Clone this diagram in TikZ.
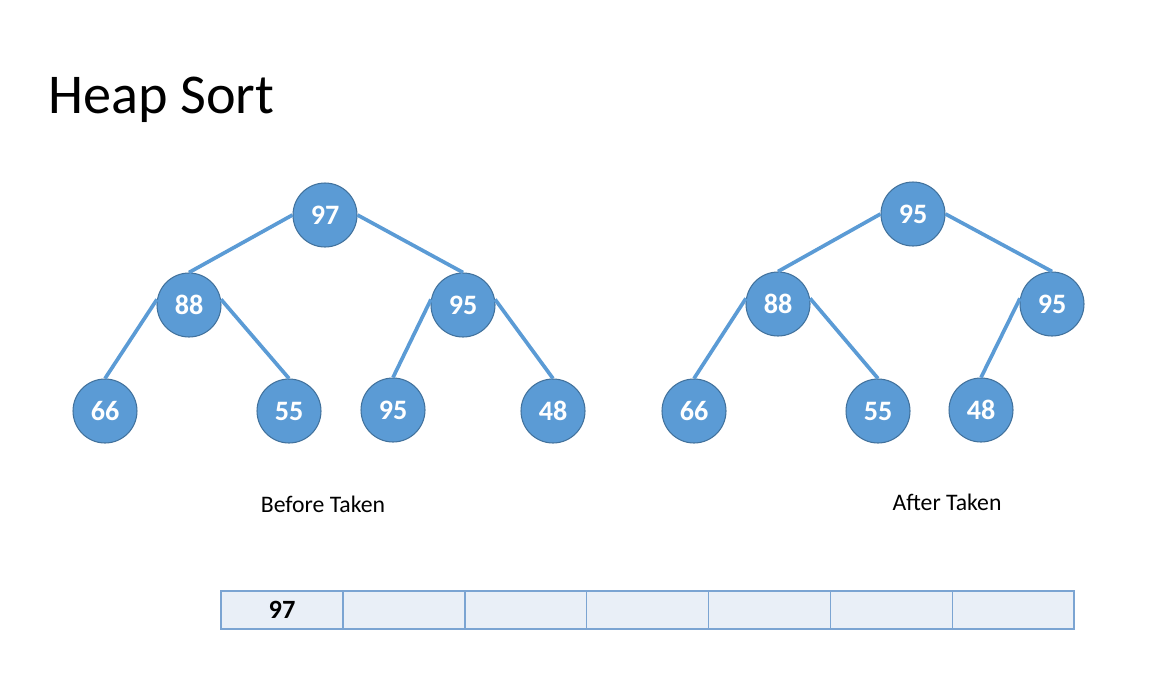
\documentclass[tikz,border=0pt]{standalone}
\usepackage{fontspec}
\setmainfont{Carlito}
\usepackage{xcolor}
\definecolor{nodeblue}{HTML}{5B9BD5}
\definecolor{nodeedge}{HTML}{41719C}
\definecolor{cellfill}{HTML}{E9EFF7}
\definecolor{celledge}{HTML}{7BA4D2}
\usepackage{tikz}

\tikzset{
  heapnode/.style={circle, fill=nodeblue, draw=nodeedge, line width=0.6pt,
    minimum size=1.28cm, inner sep=0pt, text=white,
    font=\fontsize{16}{18}\selectfont\bfseries},
  link/.style={nodeblue, line width=2.1pt},
  cellbox/.style={rectangle, fill=cellfill, draw=celledge, line width=0.8pt,
    minimum width=2.437cm, minimum height=0.76cm, inner sep=0pt}
}

\begin{document}
\begin{tikzpicture}[x=0.02cm, y=-0.02cm]

            \useasboundingbox (0,0) rectangle (1170,697);

            \node[anchor=base west, font=\fontsize{32}{36}\selectfont] (title) at (42,113) {Heap Sort};

            \node[heapnode] (l97) at (325,215) {97};
            \node[heapnode] (l88) at (189,305) {88};
            \node[heapnode] (l95) at (463,305) {95};
            \node[heapnode] (l66) at (105,411) {66};
            \node[heapnode] (l55) at (289,411) {55};
            \node[heapnode] (l95b) at (393,410) {95};
            \node[heapnode] (l48) at (553,411) {48};

            \draw[link] (l97.west) -- (l88.north);
            \draw[link] (l97.east) -- (l95.north);
            \draw[link] (l88.170) -- (l66.north);
            \draw[link] (l88.10) -- (l55.north);
            \draw[link] (l95.170) -- (l95b.north);
            \draw[link] (l95.10) -- (l48.north);

            \node[heapnode] (r95) at (913,214) {95};
            \node[heapnode] (r88) at (778,304) {88};
            \node[heapnode] (r95b) at (1052,304) {95};
            \node[heapnode] (r66) at (694,411) {66};
            \node[heapnode] (r55) at (878,411) {55};
            \node[heapnode] (r48) at (981,410) {48};

            \draw[link] (r95.west) -- (r88.north);
            \draw[link] (r95.east) -- (r95b.north);
            \draw[link] (r88.170) -- (r66.north);
            \draw[link] (r88.10) -- (r55.north);
            \draw[link] (r95b.170) -- (r48.north);

            \node[font=\fontsize{13.5}{16}\selectfont] (before) at (323,504) {Before Taken};
            \node[font=\fontsize{13.5}{16}\selectfont] (after) at (947,502) {After Taken};

            \foreach \i in {0,...,6}
              \node[cellbox] (cell\i) at ({282+121.86*\i},610) {};
            \node[font=\fontsize{15}{17}\selectfont\bfseries] at (cell0) {97};

          \end{tikzpicture}
\end{document}
